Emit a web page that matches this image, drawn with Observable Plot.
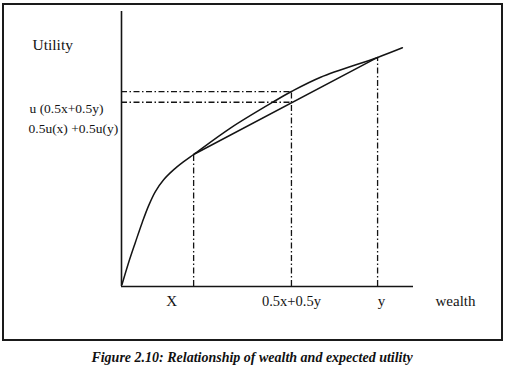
<!DOCTYPE html>
<html>
<head>
<meta charset="utf-8">
<script src="https://cdn.jsdelivr.net/npm/d3@7"></script>
<script src="https://cdn.jsdelivr.net/npm/@observablehq/plot@0.6"></script>
<style>
  body { margin: 0; background: #fff; }
  #wrap { position: relative; width: 506px; height: 370px; }
  #border { position: absolute; left: 2px; top: 3px; width: 497px; height: 334px; border: 2px solid #1a1a1a; }
  #chart { position: absolute; left: 0; top: 0; }
  #cap { position: absolute; left: 0; top: 350px; width: 504px; text-align: center;
         font: bold italic 14px "Liberation Serif", serif; color: #111; line-height: 16px; }
</style>
</head>
<body>
<div id="wrap">
  <div id="border"></div>
  <div id="chart"></div>
  <div id="cap">Figure 2.10: Relationship of wealth and expected utility</div>
</div>
<script>
// Utility curve (wealth, utility)
const curveWealth  = [0.2, 2.5, 4.8, 7.1, 9.3, 11.6, 14.5, 17.9, 21.3, 24.7, 37.3, 52.1, 58.2, 68.2, 87.7, 96.2];
const curveUtility = [0.8, 8.9, 16.2, 23.3, 29.4, 34.5, 38.9, 42.5, 45.4, 48.0, 57.6, 67.2, 70.9, 76.1, 83.3, 86.8];

// key wealth levels: x, 0.5x+0.5y, y
const keyWealth  = [24.7, 58.2, 87.7];
const keyUtility = [48.0, 70.9, 83.3];
const expectedUtility = 67.0; // 0.5u(x)+0.5u(y) on the chord

const xTickLabels = ["X", "0.5x+0.5y", "y"];
const yLabels = ["u (0.5x+0.5y)", "0.5u(x) +0.5u(y)"];
const yLabelValues = [keyUtility[1], expectedUtility];
const xAxisTitle = "wealth";
const yAxisTitle = "Utility";

const curve = curveWealth.map((w, i) => ({w, u: curveUtility[i]}));
const chord = [
  {w: keyWealth[0], u: keyUtility[0]},
  {w: keyWealth[2], u: keyUtility[2]}
];
const verticals = keyWealth.map((w, i) => ({w, u: keyUtility[i]}));
const horizontals = [
  {u: keyUtility[1], w: keyWealth[1]},
  {u: expectedUtility, w: keyWealth[1]}
];
const ticks = xTickLabels.map((t, i) => ({t, w: keyWealth[i]}));
const dash = "6,2.5,1.5,2.5";
const ink = "#141414";

const chart = Plot.plot({
  width: 506,
  height: 342,
  marginLeft: 121,
  marginRight: 93,
  marginTop: 11,
  marginBottom: 56,
  x: {domain: [0, 100], axis: null},
  y: {domain: [0, 100], axis: null},
  style: {fontFamily: "Liberation Serif, serif", background: "transparent", color: ink},
  marks: [
    Plot.ruleX([0], {stroke: ink, strokeWidth: 1.6}),
    Plot.ruleY([0], {stroke: ink, strokeWidth: 1.6}),
    Plot.ruleX(verticals, {x: "w", y1: 0, y2: "u", stroke: ink, strokeWidth: 1.3, strokeDasharray: dash}),
    Plot.ruleY(horizontals, {y: "u", x1: 0, x2: "w", stroke: ink, strokeWidth: 1.3, strokeDasharray: dash}),
    Plot.line(curve, {x: "w", y: "u", curve: "catmull-rom", stroke: ink, strokeWidth: 1.5}),
    Plot.line(chord, {x: "w", y: "u", stroke: ink, strokeWidth: 1.5}),
    // x labels
    Plot.text([ticks[0]], {x: "w", y: 0, text: "t", dx: -22, dy: 15, fontSize: 15, fill: ink}),
    Plot.text([ticks[1]], {x: "w", y: 0, text: "t", dx: 0, dy: 15, fontSize: 14.5, fill: ink}),
    Plot.text([ticks[2]], {x: "w", y: 0, text: "t", dx: 4, dy: 15, fontSize: 15, fill: ink}),
    Plot.text([xAxisTitle], {x: 100, y: 0, text: d => d, textAnchor: "start", dx: 22, dy: 15, fontSize: 15, fill: ink}),
    // y labels
    Plot.text([yAxisTitle], {frameAnchor: "left", y: 100, text: d => d, textAnchor: "start", dx: -89, dy: 34, fontSize: 15.5, fill: ink}),
    Plot.text([yLabels[0]], {frameAnchor: "left", y: yLabelValues[0], text: d => d, textAnchor: "start", dx: -92, dy: 17, fontSize: 13.5, fill: ink}),
    Plot.text([yLabels[1]], {frameAnchor: "left", y: yLabelValues[1], text: d => d, textAnchor: "start", dx: -93, dy: 26, fontSize: 13.5, fill: ink})
  ]
});
document.getElementById("chart").appendChild(chart);
</script>
</body>
</html>
